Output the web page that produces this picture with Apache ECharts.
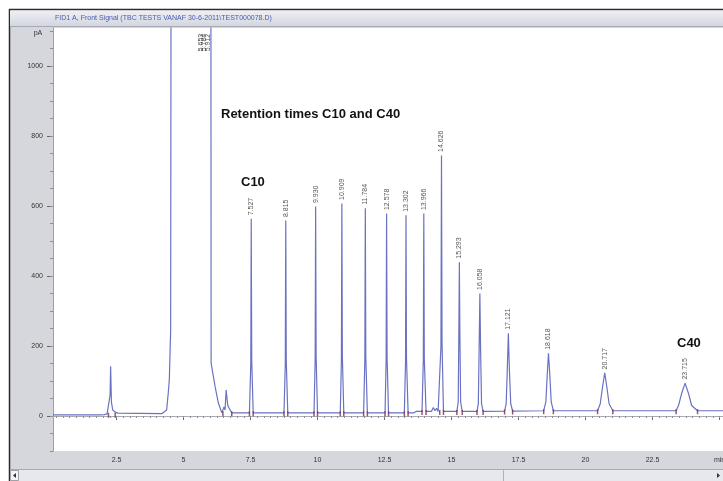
<!DOCTYPE html>
<html lang="en">
<head>
<meta charset="UTF-8">
<title>FID1 A, Front Signal</title>
<style>
    html, body { margin: 0; padding: 0; background: #fff; }
    #main { width: 723px; height: 481px; }
</style>
</head>
<body>
<div id="main"></div>
<script src="https://cdn.jsdelivr.net/npm/echarts@6.0.0/dist/echarts.min.js"></script>
<script>
    // axis ticks
    var xTickValues = [2.5, 5, 7.5, 10, 12.5, 15, 17.5, 20, 22.5, 25];
    var yTickValues = [0, 200, 400, 600, 800, 1000];

    // labelled peaks: retention time (min) and apex height (pA)
    var peakRT = ['7.527', '8.815', '9.930', '10.909', '11.784', '12.578', '13.302', '13.966',
        '14.626', '15.293', '16.058', '17.121', '18.618', '20.717', '23.715'];
    var peakHeight = [563, 558, 598, 607, 593, 578, 573, 578, 744, 439, 350, 236, 179, 123, 94];

    // integration marks at peak start / end and the baseline there
    var peakStart = [2.20, 6.47, 7.46, 8.75, 9.87, 10.85, 11.72, 12.52, 13.24, 13.90, 14.56, 15.20, 15.95, 16.98, 18.44, 20.45, 23.38];
    var peakEnd = [2.45, 6.80, 7.60, 8.89, 10.00, 10.98, 11.86, 12.65, 13.38, 14.05, 14.70, 15.40, 16.18, 17.28, 18.80, 21.02, 24.18];
    var peakBase = [5, 9, 9, 9, 9, 9, 9, 9, 9, 13, 13, 13, 13, 14, 15, 15, 15];

    // off-scale solvent peak labels (drawn at the top of the plot)
    var solventRT = ['5.653', '5.784', '5.912'];
    var solventLabelLevel = 1040;

    // the detector trace, [time, signal]
    var traceEarly = [
        [0.13, 3], [1.90, 3], [2.05, 4], [2.15, 6], [2.22, 7], [2.26, 60], [2.28, 142], [2.31, 40],
        [2.36, 17], [2.45, 11], [2.55, 8], [4.20, 7], [4.25, 7], [4.37, 17], [4.43, 65], [4.47, 103],
        [4.52, 245], [4.56, 3000], [5.20, 6000], [5.98, 3000], [6.02, 1500], [6.03, 151], [6.18, 83],
        [6.30, 37], [6.43, 9], [6.46, 12], [6.51, 26], [6.55, 17], [6.59, 74], [6.65, 31], [6.70, 23],
        [6.80, 9]
    ];
    var traceNarrow = [
        [7.46, 9], [7.51, 150], [7.527, 563], [7.545, 160], [7.60, 9],
        [8.75, 9], [8.798, 150], [8.815, 558], [8.833, 160], [8.89, 9],
        [9.87, 9], [9.912, 160], [9.930, 598], [9.948, 170], [10.00, 9],
        [10.85, 9], [10.891, 160], [10.909, 607], [10.927, 170], [10.98, 9],
        [11.72, 9], [11.766, 160], [11.784, 593], [11.802, 170], [11.86, 9],
        [12.52, 9], [12.560, 160], [12.578, 578], [12.596, 165], [12.65, 9],
        [13.24, 9], [13.284, 155], [13.302, 573], [13.320, 165], [13.38, 9],
        [13.60, 9], [13.68, 13],
        [13.90, 13], [13.948, 160], [13.966, 578], [13.984, 165], [14.05, 13],
        [14.25, 13], [14.32, 24], [14.38, 15], [14.44, 22], [14.50, 13],
        [14.56, 13], [14.606, 200], [14.626, 744], [14.646, 210], [14.70, 13]
    ];
    var traceLate = [
        [15.20, 13], [15.25, 40], [15.275, 250], [15.293, 439], [15.31, 250], [15.34, 40], [15.40, 13],
        [15.95, 13], [16.00, 35], [16.03, 190], [16.058, 350], [16.085, 190], [16.12, 35], [16.18, 13],
        [16.98, 14], [17.04, 35], [17.08, 130], [17.121, 236], [17.16, 130], [17.21, 35], [17.28, 14],
        [18.44, 15], [18.52, 40], [18.57, 115], [18.618, 179], [18.67, 115], [18.72, 40], [18.80, 15],
        [20.45, 15], [20.55, 35], [20.63, 80], [20.717, 123], [20.80, 80], [20.88, 35], [21.02, 15],
        [21.28, 15], [21.35, 19], [21.42, 15],
        [23.38, 15], [23.47, 30], [23.59, 65], [23.715, 94], [23.84, 65], [23.96, 30], [24.18, 15],
        [25.13, 15]
    ];

    var titleText = 'FID1 A, Front Signal (TBC TESTS VANAF 30-6-2011\\TEST000078.D)';
    var font = 'Liberation Sans, Arial, sans-serif';

    var trace = traceEarly.concat(traceNarrow, traceLate);

    var labelData = peakRT.map(function (rt, i) {
        return {name: rt, value: [parseFloat(rt), peakHeight[i]]};
    });
    var solventData = solventRT.map(function (rt) {
        return {name: rt, value: [parseFloat(rt), solventLabelLevel]};
    });
    var markData = [];
    for (var i = 0; i < peakStart.length; i++) {
        markData.push([peakStart[i], peakBase[i]]);
        markData.push([peakEnd[i], peakBase[i]]);
    }

    // minor tick positions
    var xMinor = [], yMinor = [];
    for (var t = 0.25; t <= 25; t += 0.25) xMinor.push(+t.toFixed(2));
    for (var v = -100; v <= 1100; v += 50) yMinor.push(v);

    var peakLabel = {
        show: true,
        position: 'top',
        distance: 3,
        rotate: 90,
        align: 'left',
        verticalAlign: 'middle',
        fontSize: 7,
        fontFamily: font,
        color: '#2a2a2a',
        formatter: '{b}'
    };

    var myChart = echarts.init(document.getElementById('main'));
    var option = {
        animation: false,
        backgroundColor: '#d6d7dd',
        grid: {
            left: 53, right: 0, top: 28, bottom: 30,
            containLabel: false, outerBoundsMode: 'none',
            show: true, backgroundColor: '#ffffff', borderWidth: 0
        },
        xAxis: [{
            type: 'value', min: 0.13, max: 25.13,
            axisLine: {show: true, lineStyle: {color: '#a9aab2', width: 1}},
            axisTick: {show: true, customValues: xTickValues, length: 4, lineStyle: {color: '#666'}},
            axisLabel: {
                customValues: xTickValues, margin: 6, fontSize: 7, fontFamily: font, color: '#333',
                formatter: function (val) { return val === 25 ? 'min' : String(val); }
            },
            splitLine: {show: false}
        }, {
            type: 'value', min: 0.13, max: 25.13, position: 'bottom',
            axisLine: {show: false},
            axisTick: {show: true, customValues: xMinor, length: 2, lineStyle: {color: '#8d8e96'}},
            axisLabel: {show: false},
            splitLine: {show: false}
        }],
        yAxis: [{
            type: 'value', min: -100, max: 1108, position: 'left',
            axisLine: {show: true, lineStyle: {color: '#9c9da5', width: 1}},
            axisTick: {show: true, customValues: yTickValues, length: 6, lineStyle: {color: '#666'}},
            axisLabel: {
                customValues: yTickValues, margin: 10, fontSize: 7, fontFamily: font, color: '#333',
                formatter: function (val) { return String(val); }
            },
            splitLine: {show: false}
        }, {
            type: 'value', min: -100, max: 1108, position: 'left',
            axisLine: {show: false},
            axisTick: {show: true, customValues: yMinor, length: 3, lineStyle: {color: '#8d8e96'}},
            axisLabel: {show: false},
            splitLine: {show: false}
        }],
        series: [{
            name: 'FID1 A',
            type: 'line',
            data: trace,
            showSymbol: false,
            clip: true,
            lineStyle: {color: '#6a72c2', width: 1.2},
            z: 3
        }, {
            name: 'marks',
            type: 'scatter',
            data: markData,
            symbol: 'rect',
            symbolSize: [1.5, 5],
            symbolOffset: [0, 1],
            itemStyle: {color: '#7b2d55'},
            z: 4
        }, {
            name: 'labels',
            type: 'scatter',
            data: labelData,
            symbolSize: 1,
            itemStyle: {color: 'rgba(0,0,0,0)'},
            label: peakLabel,
            z: 5
        }, {
            name: 'solvent labels',
            type: 'scatter',
            data: solventData,
            symbolSize: 1,
            itemStyle: {color: 'rgba(0,0,0,0)'},
            label: echarts.util.extend(echarts.util.clone(peakLabel), {distance: 0, color: '#222'}),
            z: 5
        }],
        graphic: {
            elements: [
                // outside the window
                {type: 'rect', shape: {x: 0, y: 0, width: 723, height: 9}, style: {fill: '#fff'}},
                {type: 'rect', shape: {x: 0, y: 0, width: 9, height: 481}, style: {fill: '#fff'}},
                // window border
                {type: 'line', shape: {x1: 9, y1: 9.5, x2: 723, y2: 9.5}, style: {stroke: '#2b2b2b', lineWidth: 1.5}},
                {type: 'line', shape: {x1: 9.5, y1: 9, x2: 9.5, y2: 481}, style: {stroke: '#2b2b2b', lineWidth: 1.5}},
                // title bar
                {
                    type: 'rect', shape: {x: 10, y: 10.5, width: 713, height: 15.5},
                    style: {
                        fill: new echarts.graphic.LinearGradient(0, 0, 0, 1, [
                            {offset: 0, color: '#eef0f5'}, {offset: 1, color: '#d4d6df'}
                        ])
                    }
                },
                {type: 'line', shape: {x1: 10, y1: 26.5, x2: 723, y2: 26.5}, style: {stroke: '#a7a9b3', lineWidth: 1}},
                {
                    type: 'text', x: 55, y: 18,
                    style: {text: titleText, font: '7px ' + font, fill: '#4a5cb2', verticalAlign: 'middle'}
                },
                {
                    type: 'text', x: 38, y: 33,
                    style: {text: 'pA', font: '7px ' + font, fill: '#333', align: 'center', verticalAlign: 'middle'}
                },
                // scroll bar
                {type: 'line', shape: {x1: 10, y1: 469.5, x2: 723, y2: 469.5}, style: {stroke: '#a9abb4', lineWidth: 1}},
                {type: 'rect', shape: {x: 10, y: 470, width: 713, height: 11}, style: {fill: '#e7e8ed'}},
                {type: 'rect', shape: {x: 10.5, y: 470.5, width: 8, height: 10}, style: {fill: '#f4f4f6', stroke: '#a0a1a9', lineWidth: 1}},
                {type: 'polygon', shape: {points: [[16, 473], [16, 478], [13, 475.5]]}, style: {fill: '#333'}},
                {type: 'line', shape: {x1: 503.5, y1: 470, x2: 503.5, y2: 481}, style: {stroke: '#b0b1b9', lineWidth: 1}},
                {type: 'polygon', shape: {points: [[717, 473], [717, 478], [720, 475.5]]}, style: {fill: '#333'}},
                // annotations
                {
                    type: 'text', x: 221, y: 114, z: 100,
                    style: {text: 'Retention times C10 and C40', font: 'bold 13px ' + font, fill: '#111', verticalAlign: 'middle'}
                },
                {
                    type: 'text', x: 241, y: 182, z: 100,
                    style: {text: 'C10', font: 'bold 13px ' + font, fill: '#111', verticalAlign: 'middle'}
                },
                {
                    type: 'text', x: 677, y: 343, z: 100,
                    style: {text: 'C40', font: 'bold 13px ' + font, fill: '#111', verticalAlign: 'middle'}
                }
            ]
        }
    };

    myChart.setOption(option);
</script>
</body>
</html>
